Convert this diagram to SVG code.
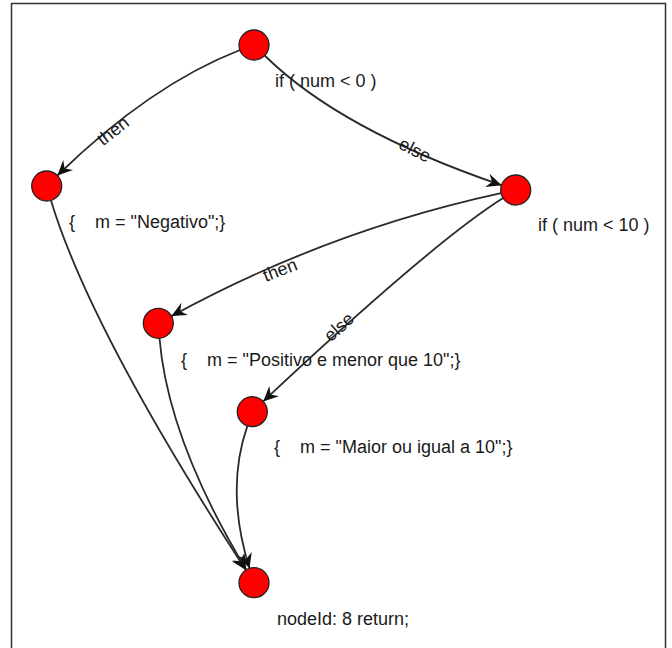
<svg xmlns="http://www.w3.org/2000/svg" width="672" height="648" viewBox="0 0 672 648">
<defs>
<marker id="arr" viewBox="-16 -8 17 16" markerWidth="17" markerHeight="16" refX="0" refY="0" orient="auto" markerUnits="userSpaceOnUse">
<path d="M0,0 L-15,-7 L-10,0 L-15,7 Z" fill="#111"/>
</marker>
<style>
.edge{fill:none;stroke:#2a2a2a;stroke-width:1.8;marker-end:url(#arr)}
.node{fill:#ff0000;stroke:#222;stroke-width:1.3}
.t{font-family:"Liberation Sans",Arial,sans-serif;font-size:18px;fill:#1a1a1a;white-space:pre}
.el{font-family:"Liberation Sans",Arial,sans-serif;font-size:18px;fill:#1a1a1a;text-anchor:middle}
</style>
</defs>
<rect x="0" y="0" width="672" height="648" fill="#fff"/>
<rect x="11.5" y="3.5" width="654" height="660" fill="none" stroke="#333" stroke-width="1.5"/>
<g id="connectors">
<path class="edge" d="M240,50 Q150,85 57.4,175.5"/>
<path class="edge" d="M264.7,55.5 Q340,130 501.5,185.2"/>
<path class="edge" d="M501,193.2 Q327,231 171.5,316.1"/>
<path class="edge" d="M503.1,198.1 Q432,243 263.2,401.4"/>
<path class="edge" d="M51,200.4 Q90,330 245.8,570.1"/>
<path class="edge" d="M159.5,338.3 Q168,440 246.3,569.8"/>
<path class="edge" d="M247.4,425.9 Q225,490 249.5,568.4"/>
<text class="el" transform="translate(113,131) rotate(-38)" y="6">then</text>
<text class="el" transform="translate(415,150) rotate(27)" y="6">else</text>
<text class="el" transform="translate(280,270) rotate(-21)" y="6">then</text>
<text class="el" transform="translate(339,327) rotate(-42)" y="6">else</text>
</g>
<g id="n1"><circle class="node" cx="254" cy="45" r="15"/><text class="t" x="275" y="87">if ( num &lt; 0 )</text></g>
<g id="n2"><circle class="node" cx="46.7" cy="186" r="15"/><text class="t" x="69" y="228" xml:space="preserve">{    m = "Negativo";}</text></g>
<g id="n3"><circle class="node" cx="515.7" cy="190" r="15"/><text class="t" x="538" y="231">if ( num &lt; 10 )</text></g>
<g id="n4"><circle class="node" cx="158.3" cy="323.3" r="15"/><text class="t" x="181" y="366" xml:space="preserve">{    m = "Positivo e menor que 10";}</text></g>
<g id="n5"><circle class="node" cx="252.3" cy="411.7" r="15"/><text class="t" x="274" y="453" xml:space="preserve">{    m = "Maior ou igual a 10";}</text></g>
<g id="n6"><circle class="node" cx="254" cy="582.7" r="15"/><text class="t" x="277" y="625">nodeId: 8 return;</text></g>
</svg>
